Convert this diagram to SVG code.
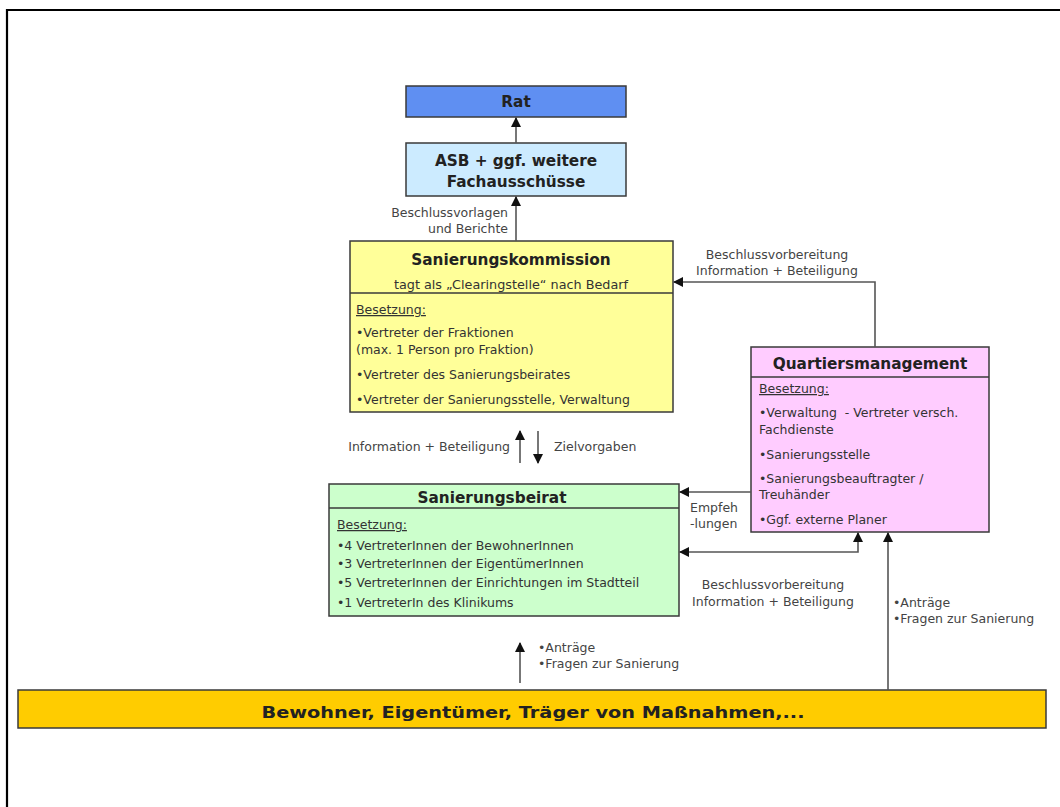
<svg xmlns="http://www.w3.org/2000/svg" width="1060" height="807" viewBox="0 0 1060 807">
<defs>
<marker id="ah" viewBox="0 0 10 10" refX="9" refY="5" markerWidth="10" markerHeight="10" markerUnits="userSpaceOnUse" orient="auto-start-reverse">
<path d="M0,0 L10,5 L0,10 z" fill="#111"/>
</marker>
</defs>
<style>
text{font-family:"DejaVu Sans","Liberation Sans",Arial,sans-serif;fill:#222;}
.box{stroke:#3a3a3a;stroke-width:1.5;}
.title{font-weight:bold;font-size:15.3px;text-anchor:middle;}
.sub{font-size:12.8px;text-anchor:middle;fill:#333;}
.body{font-size:12.5px;fill:#333;}
.lbl{font-size:12.5px;fill:#444;}
.conn{fill:none;stroke:#555;stroke-width:1.6;}
</style>
<rect x="0" y="0" width="1060" height="807" fill="#fff"/>
<path d="M7,807 L7,10 L1060,10" fill="none" stroke="#000" stroke-width="2.2"/>

<g id="rat">
<rect class="box" x="406" y="86" width="220" height="31" fill="#5F8FF2"/>
<text class="title" x="516" y="107" font-size="14">Rat</text>
</g>

<g id="asb">
<rect class="box" x="406" y="143" width="220" height="53" fill="#CCEBFF"/>
<text class="title" x="516" y="166">ASB + ggf. weitere</text>
<text class="title" x="516" y="187">Fachausschüsse</text>
</g>

<g id="kommission">
<rect class="box" x="350" y="241" width="323" height="171" fill="#FFFF99"/>
<line class="box" x1="350" y1="293" x2="673" y2="293"/>
<text class="title" x="511" y="265">Sanierungskommission</text>
<text class="sub" x="511" y="289">tagt als „Clearingstelle“ nach Bedarf</text>
<text class="body" x="356" y="314" text-decoration="underline">Besetzung:</text>
<text class="body" x="356" y="337">•Vertreter der Fraktionen</text>
<text class="body" x="356" y="354">(max. 1 Person pro Fraktion)</text>
<text class="body" x="356" y="379">•Vertreter des Sanierungsbeirates</text>
<text class="body" x="356" y="404">•Vertreter der Sanierungsstelle, Verwaltung</text>
</g>

<g id="quartiersmanagement">
<rect class="box" x="751" y="347" width="238" height="185" fill="#FFCCFF"/>
<line class="box" x1="751" y1="377" x2="989" y2="377"/>
<text class="title" x="870" y="369" font-size="15.8">Quartiersmanagement</text>
<text class="body" x="759" y="393" text-decoration="underline">Besetzung:</text>
<text class="body" x="759" y="417" xml:space="preserve">•Verwaltung  - Vertreter versch.</text>
<text class="body" x="759" y="434">Fachdienste</text>
<text class="body" x="759" y="459">•Sanierungsstelle</text>
<text class="body" x="759" y="483">•Sanierungsbeauftragter /</text>
<text class="body" x="759" y="499">Treuhänder</text>
<text class="body" x="759" y="524">•Ggf. externe Planer</text>
</g>

<g id="beirat">
<rect class="box" x="329" y="484" width="350" height="132" fill="#CCFFCC"/>
<line class="box" x1="329" y1="508" x2="679" y2="508"/>
<text class="title" x="492" y="503" font-size="17.5">Sanierungsbeirat</text>
<text class="body" x="337" y="529" text-decoration="underline">Besetzung:</text>
<text class="body" x="337" y="550">•4 VertreterInnen der BewohnerInnen</text>
<text class="body" x="337" y="568">•3 VertreterInnen der EigentümerInnen</text>
<text class="body" x="337" y="587">•5 VertreterInnen der Einrichtungen im Stadtteil</text>
<text class="body" x="337" y="607">•1 VertreterIn des Klinikums</text>
</g>

<g id="bewohner">
<rect class="box" x="18" y="690" width="1028" height="38" fill="#FFCC00"/>
<text class="title" x="533" y="718" font-size="21.5" textLength="543" lengthAdjust="spacingAndGlyphs">Bewohner, Eigentümer, Träger von Maßnahmen,...</text>
</g>

<g id="connectors">
<line class="conn" x1="516" y1="143" x2="516" y2="118" marker-end="url(#ah)"/>
<line class="conn" x1="516" y1="241" x2="516" y2="197" marker-end="url(#ah)"/>
<polyline class="conn" points="875,347 875,282 674,282" marker-end="url(#ah)"/>
<line class="conn" x1="520" y1="463" x2="520" y2="431" marker-end="url(#ah)"/>
<line class="conn" x1="538" y1="431" x2="538" y2="463" marker-end="url(#ah)"/>
<line class="conn" x1="751" y1="492" x2="680" y2="492" marker-end="url(#ah)"/>
<polyline class="conn" points="858,533 858,552 680,552" marker-start="url(#ah)" marker-end="url(#ah)"/>
<line class="conn" x1="888" y1="690" x2="888" y2="533" marker-end="url(#ah)"/>
<line class="conn" x1="520" y1="683" x2="520" y2="643" marker-end="url(#ah)"/>
<text class="lbl" x="508" y="217" text-anchor="end">Beschlussvorlagen</text>
<text class="lbl" x="508" y="233" text-anchor="end">und Berichte</text>
<text class="lbl" x="777" y="259" text-anchor="middle">Beschlussvorbereitung</text>
<text class="lbl" x="777" y="275" text-anchor="middle">Information + Beteiligung</text>
<text class="lbl" x="510" y="451" text-anchor="end">Information + Beteiligung</text>
<text class="lbl" x="554" y="451">Zielvorgaben</text>
<text class="lbl" x="690" y="512">Empfeh</text>
<text class="lbl" x="690" y="528">-lungen</text>
<text class="lbl" x="773" y="589" text-anchor="middle">Beschlussvorbereitung</text>
<text class="lbl" x="773" y="606" text-anchor="middle">Information + Beteiligung</text>
<text class="lbl" x="893" y="607">•Anträge</text>
<text class="lbl" x="893" y="623">•Fragen zur Sanierung</text>
<text class="lbl" x="538" y="652">•Anträge</text>
<text class="lbl" x="538" y="668">•Fragen zur Sanierung</text>
</g>
</svg>
